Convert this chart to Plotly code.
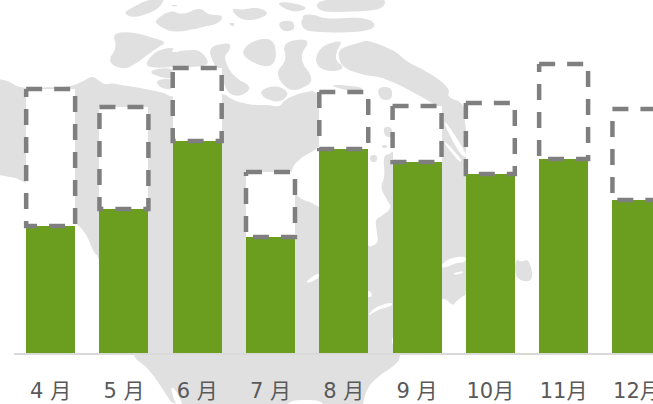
import plotly.graph_objects as go

months = ["4 月", "5 月", "6 月", "7 月", "8 月", "9 月", "10月", "11月", "12月"]
actual = [127, 144, 212, 116, 204, 191, 179, 194, 153]
remaining = [137, 102, 73, 65, 57, 56, 71, 95, 91]

GREEN = "#6B9E1F"
DASH = "#7F7F7F"
MAP = "#E0E0E0"

W, H = 653, 404
L, T, B = 13.85, 0, 51
PW, PH = W - L, H - T - B

# Decorative background map, outlines in page pixels
map_land = [
    [(-15,78),(-5,78),(8,81),(20,88),(40,88),(50,87),(60,88),(75,85),(85,80),(92,76),(98,80),(105,85),(112,83),(120,85),(135,87),(150,90),(165,93),(172,98),(222,92),(232,100),(250,105),(268,105),(280,107),(284,100),(300,93),(319,90),(335,125),(319,148),(300,158),(290,170),(294,197),(319,205),(368,245),(370,247),(378,243),(377,233),(375,220),(380,217),(392,208),(387,200),(380,187),(385,177),(383,155),(392,154),(441,103),(470,110),(470,292),(457,300),(453,306),(447,300),(441,298),(392,335),(392,345),(400,353),(400,356),(398,363),(373,380),(365,393),(362,410),(323,410),(323,400),(288,400),(288,410),(176,410),(162,388),(148,368),(130,355),(99,257),(93,252),(87,235),(75,222),(25,180),(0,175),(-15,173)],
    [(340,48),(362,42),(367,40),(394,50),(407,62),(424,70),(440,80),(450,90),(447,97),(464,103),(466,125),(441,108),(400,85),(387,80),(380,77),(363,75),(343,68),(338,57)],
    [(315,57),(323,45),(343,40),(337,50),(335,60),(345,68),(333,72),(318,68)],
    [(123,13),(133,7),(147,0),(165,-3),(160,7),(150,13),(133,18)],
    [(155,20),(170,10),(183,15),(200,7),(208,15),(223,15),(220,23),(200,28),(173,33),(157,25)],
    [(230,8),(243,10),(257,7),(270,13),(257,20),(240,20)],
    [(275,3),(290,2),(310,8),(293,13)],
    [(277,22),(293,20),(295,30),(283,32)],
    [(300,13),(326,17),(326,33),(307,28)],
    [(228,23),(235,23),(233,27)],
    [(170,5),(178,5),(175,7)],
    [(112,33),(133,32),(150,37),(167,42),(157,48),(147,55),(137,63),(123,70),(107,62),(117,47)],
    [(145,63),(157,50),(175,47),(170,53),(187,50),(200,50),(210,63),(200,67),(173,67),(150,68)],
    [(150,70),(173,67),(173,80),(153,75)],
    [(155,80),(173,78),(173,90),(160,88)],
    [(208,47),(230,42),(230,50),(223,57),(233,77),(253,87),(240,97),(227,93),(222,77),(213,63)],
    [(240,53),(253,40),(273,38),(277,57),(270,68),(253,63)],
    [(282,42),(312,38),(298,58),(315,80),(300,90),(287,90),(275,73),(287,60)],
    [(260,90),(277,85),(290,93),(280,103),(263,98)],
    [(315,3),(333,-2),(385,-2),(385,5),(378,10),(350,12),(320,12)],
    [(300,18),(317,17),(333,19),(360,17),(375,22),(373,30),(343,33),(317,32),(303,30)],
    [(383,127),(392,127),(392,137),(385,137)],
    [(382,145),(387,145),(387,148),(382,148)],
    [(370,155),(377,155),(377,162),(370,162)],
    [(377,87),(392,87),(392,100),(380,100)],
    [(327,84),(364,87),(360,92),(344,90)],
    [(515,259),(522,262),(528,259),(532,270),(532,280),(525,282),(515,277)],
]
map_water = [
    [(371,206),(380,204),(380,208),(375,209)],
    [(443,122),(447,123),(466,153),(466,158),(459,153)],
    [(443,142),(447,143),(462,160),(460,163)],
    [(441,265),(450,258),(466,256),(466,262),(456,263),(447,267),(441,268)],
    [(453,273),(463,271),(463,273),(455,275)],
    [(368,315),(375,307),(392,302),(392,306),(377,310),(370,315)],
    [(366,290),(371,292),(372,297),(366,297)],
    [(305,282),(319,272),(319,278),(309,283)],
    [(170,388),(174,388),(180,398),(184,410),(178,410)],
]

def smooth(points, rounds=2):
    for _ in range(rounds):
        out = []
        for (x0, y0), (x1, y1) in zip(points, points[1:] + points[:1]):
            out += [(0.75*x0 + 0.25*x1, 0.75*y0 + 0.25*y1), (0.25*x0 + 0.75*x1, 0.25*y0 + 0.75*y1)]
        points = out
    return points

def to_path(points):
    pts = smooth(points)
    xs = [(x - L) / PW for x, _ in pts]
    ys = [1 - (y - T) / PH for _, y in pts]
    return "M" + " L".join(f"{a:.4f},{b:.4f}" for a, b in zip(xs, ys)) + " Z"

shapes = []
for poly, colour in [(p, MAP) for p in map_land] + [(p, "white") for p in map_water]:
    shapes.append(dict(type="path", xref="paper", yref="paper", path=to_path(poly),
                       fillcolor=colour, line=dict(width=0), layer="below"))

positions = list(range(len(months)))
half = 0.334
dash_x, dash_y = [], []
for i, (a, r) in enumerate(zip(actual, remaining)):
    dash_x += [i - half, i + half, i + half, i - half, i - half, None]
    dash_y += [a + r, a + r, a, a, a + r, None]

fig = go.Figure()
fig.add_bar(x=positions, y=actual, width=0.667, marker=dict(color=GREEN, line=dict(width=0)))
fig.add_bar(x=positions, y=remaining, width=0.667, marker=dict(color="white", line=dict(width=0)))
fig.add_scatter(x=dash_x, y=dash_y, mode="lines", connectgaps=False,
                line=dict(color=DASH, width=4.5, dash="16px,12px"))
fig.update_layout(
    width=W, height=H, autosize=False, barmode="stack", showlegend=False,
    margin=dict(l=L, r=0, t=T, b=B, pad=0),
    paper_bgcolor="white", plot_bgcolor="rgba(0,0,0,0)", shapes=shapes,
    xaxis=dict(range=[-0.5, -0.5 + PW / 73.3], tickmode="array", tickvals=positions, ticktext=months,
               showgrid=False, zeroline=False, showline=True, linecolor="#D9D9D9", linewidth=2,
               ticks="", ticklabelstandoff=18, automargin=False, tickangle=0, ticklabeloverflow="allow",
               tickfont=dict(family="'DejaVu Sans','Noto Sans CJK JP',sans-serif", size=21, color="#595959")),
    yaxis=dict(range=[0, PH], visible=False, fixedrange=True),
)
fig.write_html("out.html", config=dict(displayModeBar=False),
               post_script="document.body.style.margin='0';document.body.style.overflow='hidden';")
